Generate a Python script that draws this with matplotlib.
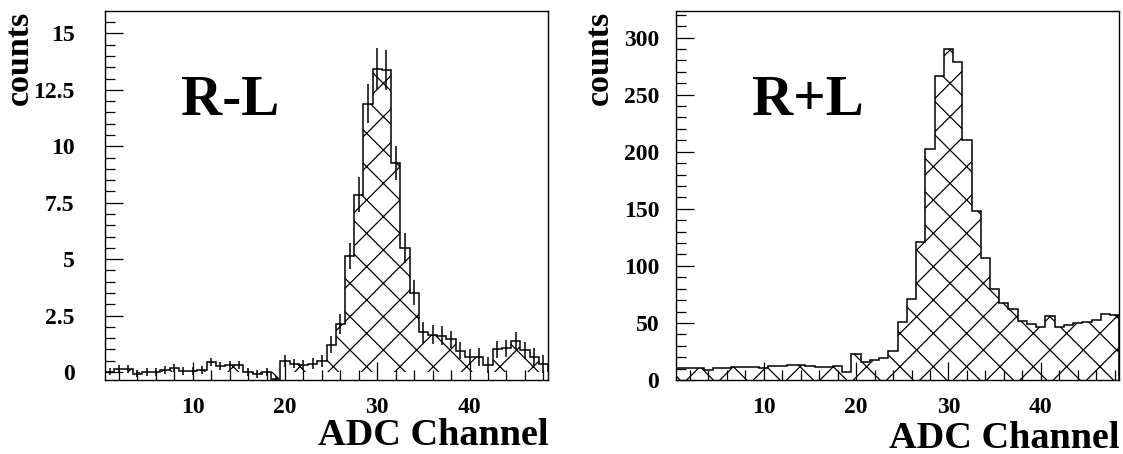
import numpy as np
import matplotlib
matplotlib.use("Agg")
import matplotlib.pyplot as plt
from matplotlib.ticker import MultipleLocator, FuncFormatter

# ---------------- data ----------------
channels = list(range(1, 49))          # ADC channel bins (centres), width 1

r_minus_l = [0.02, 0.12, 0.12, -0.08, 0.0, 0.0, 0.08, 0.17, 0.04, 0.04,
             0.10, 0.44, 0.27, 0.30, 0.32, 0.0, -0.07, 0.0, -0.30, 0.50,
             0.37, 0.32, 0.37, 0.50, 1.20, 2.13, 5.13, 7.86, 11.89, 13.44,
             13.39, 9.26, 5.50, 3.51, 1.75, 1.66, 1.60, 1.45, 0.94, 0.65,
             0.65, 0.31, 1.00, 1.05, 1.39, 0.97, 0.68, 0.35]

r_minus_l_err = [0.17, 0.17, 0.17, 0.16, 0.17, 0.17, 0.18, 0.18, 0.18, 0.17,
                 0.18, 0.18, 0.19, 0.19, 0.18, 0.18, 0.18, 0.18, 0.14, 0.26,
                 0.21, 0.22, 0.23, 0.27, 0.38, 0.45, 0.58, 0.76, 0.87, 0.90,
                 0.89, 0.77, 0.65, 0.55, 0.47, 0.44, 0.42, 0.38, 0.37, 0.36,
                 0.40, 0.36, 0.37, 0.37, 0.38, 0.38, 0.40, 0.40]

r_plus_l = [10.6, 10.1, 10.1, 8.6, 10.6, 10.6, 11.2, 11.2, 11.2, 10.8,
            12.1, 12.1, 13.0, 13.0, 12.1, 11.5, 11.5, 12.1, 6.8, 23.2,
            15.6, 17.9, 19.4, 25.2, 50.6, 71.3, 120.5, 202.4, 266.2, 289.8,
            278.7, 210.2, 148.2, 106.8, 79.7, 67.5, 62.2, 51.4, 49.1, 46.2,
            55.8, 46.2, 48.5, 50.0, 50.6, 52.3, 57.8, 57.0]

x_ticks = [10, 20, 30, 40]
left_y_ticks = [0, 2.5, 5, 7.5, 10, 12.5, 15]
right_y_ticks = [0, 50, 100, 150, 200, 250, 300]

# ---------------- style ----------------
plt.rcParams['font.family'] = ['Liberation Serif', 'DejaVu Serif']
plt.rcParams['font.weight'] = 'bold'
plt.rcParams['hatch.color'] = 'black'
plt.rcParams['hatch.linewidth'] = 0.9

W, H = 1123, 454
fig = plt.figure(figsize=(W / 100, H / 100), dpi=100)

def frac_rect(x0, y0, x1, y1):
    return [x0 / W, (H - y1) / H, (x1 - x0) / W, (y1 - y0) / H]

ax1 = fig.add_axes(frac_rect(105, 11, 548, 380))
ax2 = fig.add_axes(frac_rect(676, 11, 1119.3, 380))

centers = np.array(channels, dtype=float)
edges = np.concatenate([centers - 0.5, [centers[-1] + 0.5]])

fmt = FuncFormatter(lambda v, p: ('%g' % v))

def style(ax, ylim, yticks, yminor, ypad):
    ax.set_xlim(edges[0], edges[-1])
    ax.set_ylim(*ylim)
    ax.set_xticks(x_ticks)
    ax.xaxis.set_minor_locator(MultipleLocator(2))
    ax.set_yticks(yticks)
    ax.yaxis.set_minor_locator(MultipleLocator(yminor))
    ax.yaxis.set_major_formatter(fmt)
    ax.tick_params(which='both', direction='in', top=False, right=False,
                   width=0.9, labelsize=17)
    ax.tick_params(which='major', length=13)
    ax.tick_params(which='minor', length=7)
    ax.tick_params(axis='x', pad=12)
    ax.tick_params(axis='y', pad=ypad)
    for s in ax.spines.values():
        s.set_linewidth(1.0)
    for lab in ax.get_xticklabels() + ax.get_yticklabels():
        lab.set_fontweight('bold')

# ---- left: R-L ----
ax1.stairs(r_minus_l, edges, fill=True, hatch='x', facecolor='none',
           edgecolor='black', linewidth=0)
ax1.stairs(r_minus_l, edges, color='black', linewidth=1.1)
ax1.errorbar(centers, r_minus_l, yerr=r_minus_l_err, fmt='none',
             ecolor='black', elinewidth=1.1, capsize=0)
style(ax1, (-0.354, 15.99), left_y_ticks, 0.5, 22)
ax1.text(0.172, 0.718, 'R-L', transform=ax1.transAxes, fontsize=41,
         fontweight='bold', ha='left', va='baseline')

# ---- right: R+L ----
ax2.stairs(r_plus_l, edges, fill=True, hatch='x', facecolor='none',
           edgecolor='black', linewidth=0)
ax2.stairs(r_plus_l, edges, color='black', linewidth=1.1)
style(ax2, (0, 323.3), right_y_ticks, 10, 12)
ax2.text(0.171, 0.718, 'R+L', transform=ax2.transAxes, fontsize=41,
         fontweight='bold', ha='left', va='baseline')

for ax, ylx, xly in ((ax1, -0.158, -0.104), (ax2, -0.137, -0.110)):
    ax.set_xlabel('ADC Channel', fontsize=27.5, fontweight='bold', loc='right')
    ax.set_ylabel('counts', fontsize=24.5, fontweight='bold', loc='top')
    ax.xaxis.set_label_coords(1.0, xly)
    ax.yaxis.set_label_coords(ylx, 1.0)

fig.savefig('out.png', dpi=100)
